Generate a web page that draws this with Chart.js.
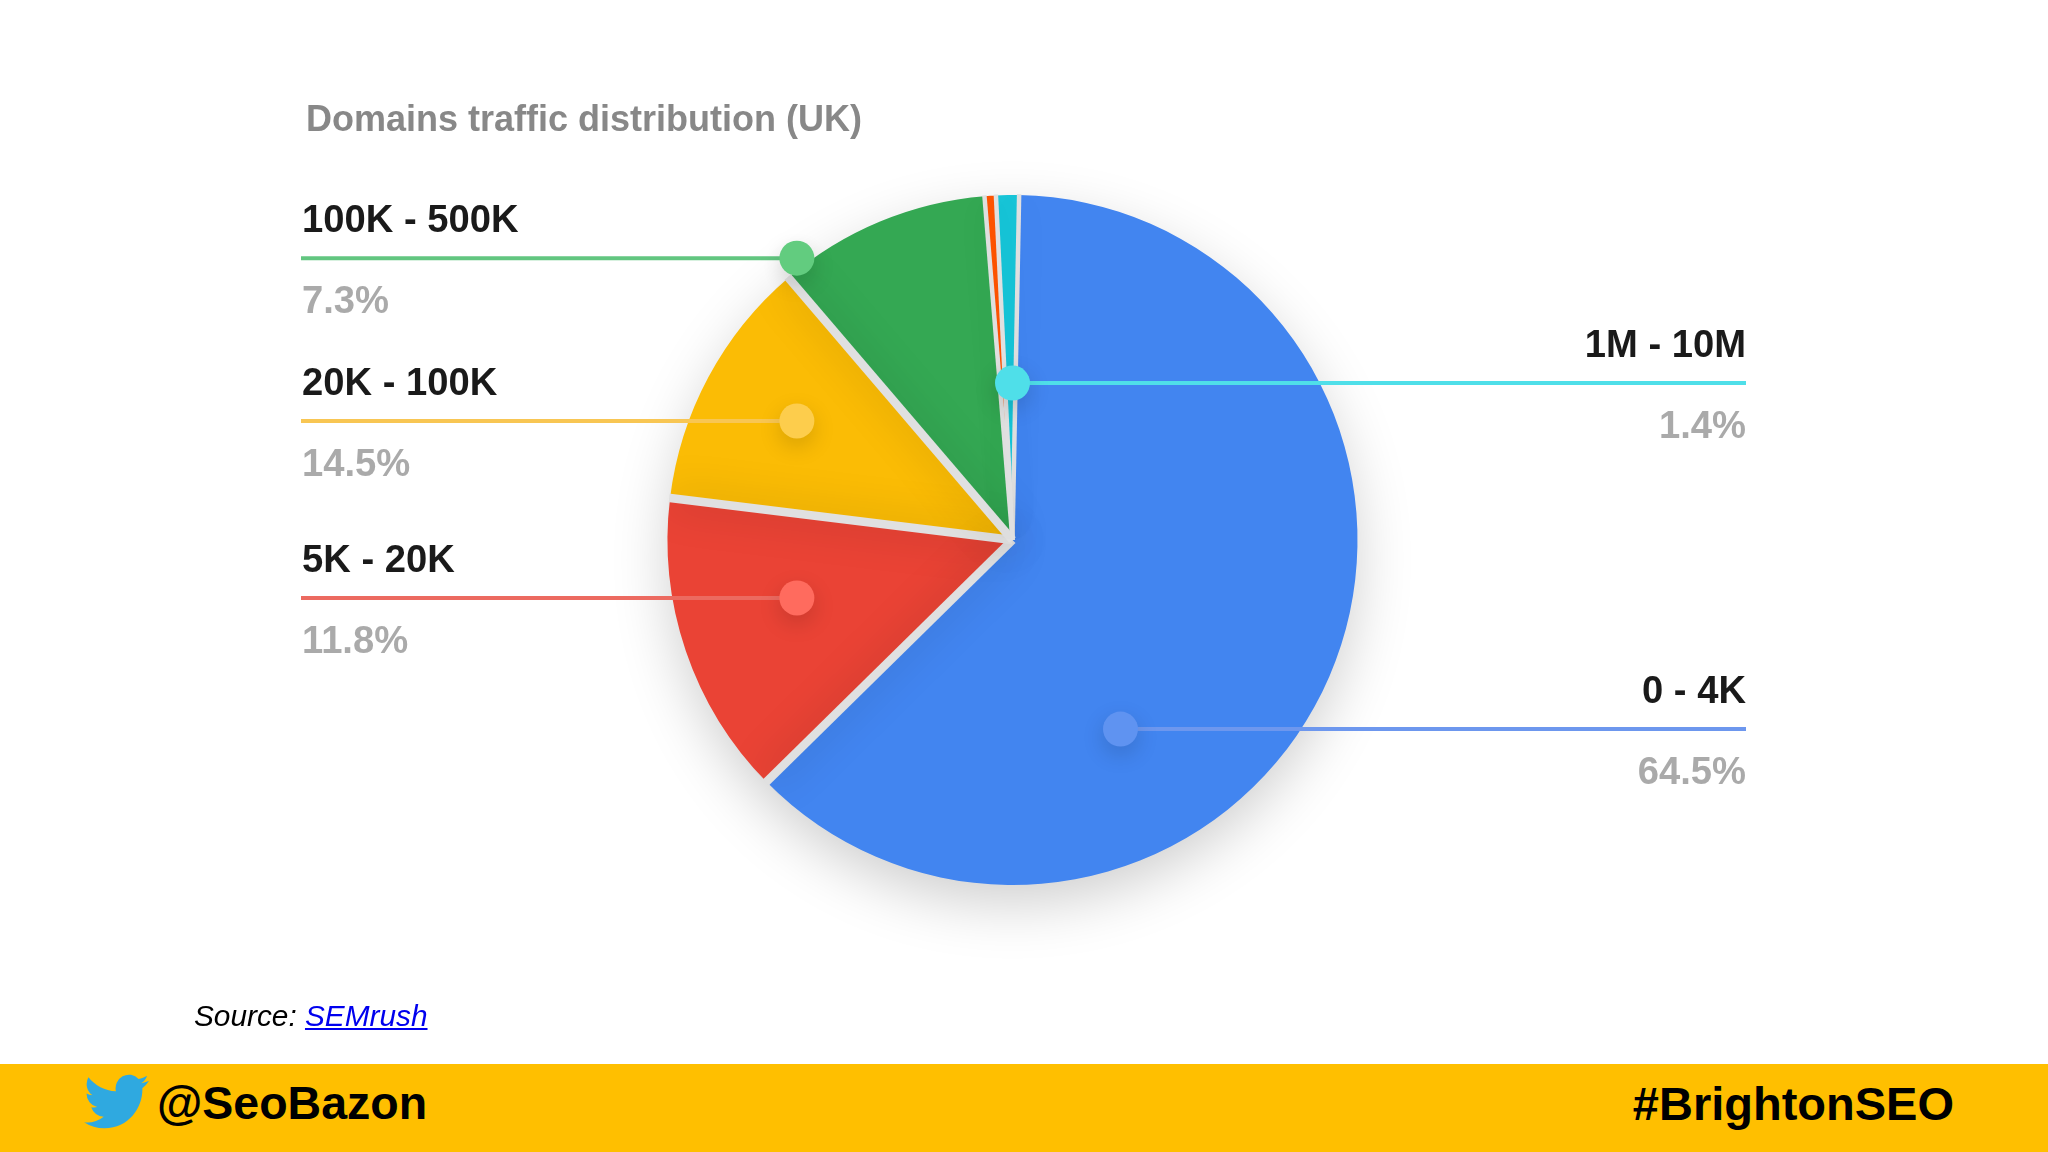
<!DOCTYPE html>
<html>
<head>
<meta charset="utf-8">
<title>Domains traffic distribution (UK)</title>
<script src="https://cdn.jsdelivr.net/npm/chart.js"></script>
<style>
  html, body { margin: 0; padding: 0; background: #fff; width: 2048px; height: 1152px; overflow: hidden; font-family: "Liberation Sans", sans-serif; }
  canvas { position: absolute; left: 0; top: 0; }
  #title { position: absolute; left: 306px; top: 98px; font-size: 36px; font-weight: bold; color: #888; white-space: nowrap; }
  #source { position: absolute; left: 194px; top: 999px; font-size: 29.8px; font-style: italic; color: #000; white-space: nowrap; }
  #source a { color: #0000ee; }
  #bar { position: absolute; left: 0; top: 1064px; width: 2048px; height: 88px; background: #ffbf00; }
  #bird { position: absolute; left: 84px; top: 10px; width: 65px; height: 55px; }
  #handle, #tag { position: absolute; top: 12px; font-size: 46.5px; font-weight: bold; color: #000; white-space: nowrap; }
  #handle { left: 157px; }
  #tag { right: 94px; font-size: 47px; }
</style>
</head>
<body>
<canvas id="pie" width="2025" height="1080"></canvas>
<div id="title">Domains traffic distribution (UK)</div>
<div id="source">Source: <a href="#">SEMrush</a></div>
<div id="bar">
  <svg id="bird" viewBox="0 0 24 20" preserveAspectRatio="none"><path fill="#2fa9e0" transform="translate(0,-2)" d="M23.953 4.57a10 10 0 01-2.825.775 4.958 4.958 0 002.163-2.723c-.951.555-2.005.959-3.127 1.184a4.92 4.92 0 00-8.384 4.482C7.69 8.095 4.067 6.13 1.64 3.162a4.822 4.822 0 00-.666 2.475c0 1.71.87 3.213 2.188 4.096a4.904 4.904 0 01-2.228-.616v.06a4.923 4.923 0 003.946 4.827 4.996 4.996 0 01-2.212.085 4.936 4.936 0 004.604 3.417 9.867 9.867 0 01-6.102 2.105c-.39 0-.779-.023-1.17-.067a13.995 13.995 0 007.557 2.209c9.053 0 13.998-7.496 13.998-13.985 0-.21 0-.42-.015-.63A9.935 9.935 0 0024 4.59z"/></svg>
  <div id="handle">@SeoBazon</div>
  <div id="tag">#BrightonSEO</div>
</div>
<script>
// slices, clockwise from the top. the printed percentages don't match the
// drawn angles in the original, so sizes are read off the slices themselves
var categories = ['0 - 4K', '5K - 20K', '20K - 100K', '100K - 500K', '500K - 1M', '1M - 10M'];
var sliceShares = [62.3, 14.3, 11.8, 9.95, 0.53, 1.07];
var printedPercents = ['64.5%', '11.8%', '14.5%', '7.3%', null, '1.4%'];

var sliceColors = ['#4285f0', '#ea4335', '#fbbc05', '#34a853', '#ff5500', '#18c5d8'];
var calloutColors = ['#6d97ee', '#ec6a60', '#f8c653', '#62c680', null, '#4fdfe9'];
var markerColors = ['#5f93f1', '#ff6b5e', '#fdcd4c', '#62cc7f', null, '#4fdfe9'];
// marker position relative to the pie centre, in radii
var markerDx = [0.313, -0.625, -0.625, -0.625, null, 0];
var markerDy = [0.548, 0.168, -0.345, -0.817, null, -0.455];

var LEFT_X = 301, RIGHT_X = 1746;
var GAP = '#e0e0e0';

var piePlugin = {
  id: 'piePlugin',
  beforeDatasetsDraw: function(chart) {
    // soft drop shadow under the whole pie
    var arc = chart.getDatasetMeta(0).data[0];
    var ctx = chart.ctx;
    ctx.save();
    ctx.shadowColor = 'rgba(0,0,0,0.2)';
    ctx.shadowBlur = 60;
    ctx.shadowOffsetY = 20;
    ctx.fillStyle = '#eee';
    ctx.beginPath();
    ctx.arc(arc.x, arc.y, arc.outerRadius - 3, 0, Math.PI * 2);
    ctx.fill();
    ctx.restore();
  },
  afterDatasetsDraw: function(chart) {
    var arcs = chart.getDatasetMeta(0).data;
    var ctx = chart.ctx;
    var cx = arcs[0].x, cy = arcs[0].y, r = arcs[0].outerRadius;

    // gaps between slices, with a bit of shade falling on the neighbours
    ctx.save();
    ctx.beginPath();
    ctx.arc(cx, cy, r + 1, 0, Math.PI * 2);
    ctx.clip();
    arcs.forEach(function(arc, i) {
      var before = (i + arcs.length - 1) % arcs.length;
      var narrow = sliceShares[i] < 2 || sliceShares[before] < 2;
      ctx.shadowColor = narrow ? 'rgba(0,0,0,0.08)' : 'rgba(0,0,0,0.25)';
      ctx.shadowBlur = 40;
      ctx.strokeStyle = GAP;
      ctx.lineWidth = narrow ? 4.5 : 8.5;
      ctx.beginPath();
      ctx.moveTo(cx, cy);
      ctx.lineTo(cx + Math.cos(arc.startAngle) * (r + 2), cy + Math.sin(arc.startAngle) * (r + 2));
      ctx.stroke();
    });
    ctx.restore();

    // callouts
    categories.forEach(function(name, i) {
      if (!printedPercents[i]) return;
      var mx = cx + markerDx[i] * r;
      var my = cy + markerDy[i] * r;
      var right = markerDx[i] >= 0;
      var endX = right ? RIGHT_X : LEFT_X;

      ctx.save();
      ctx.strokeStyle = calloutColors[i];
      ctx.lineWidth = 4;
      ctx.beginPath();
      ctx.moveTo(mx, my);
      ctx.lineTo(endX, my);
      ctx.stroke();

      ctx.shadowColor = 'rgba(0,0,0,0.15)';
      ctx.shadowBlur = 22;
      ctx.shadowOffsetY = 8;
      ctx.fillStyle = markerColors[i];
      ctx.beginPath();
      ctx.arc(mx, my, 17.5, 0, Math.PI * 2);
      ctx.fill();
      ctx.restore();

      ctx.save();
      ctx.textAlign = right ? 'right' : 'left';
      ctx.textBaseline = 'alphabetic';
      ctx.font = 'bold 38.2px "Liberation Sans"';
      ctx.fillStyle = '#1a1a1a';
      ctx.fillText(name, endX + (right ? 0 : 1), my - 26);
      ctx.fillStyle = '#aaaaaa';
      ctx.fillText(printedPercents[i], endX + (right ? 0 : 1), my + 55);
      ctx.restore();
    });
  }
};

new Chart(document.getElementById('pie'), {
  type: 'pie',
  data: {
    labels: categories,
    datasets: [{
      data: sliceShares,
      backgroundColor: sliceColors,
      borderWidth: 0
    }]
  },
  options: {
    responsive: false,
    devicePixelRatio: 1,
    animation: false,
    rotation: 1.1,
    radius: 345,
    layout: { padding: 0 },
    plugins: { legend: { display: false }, tooltip: { enabled: false } }
  },
  plugins: [piePlugin]
});
</script>
</body>
</html>
